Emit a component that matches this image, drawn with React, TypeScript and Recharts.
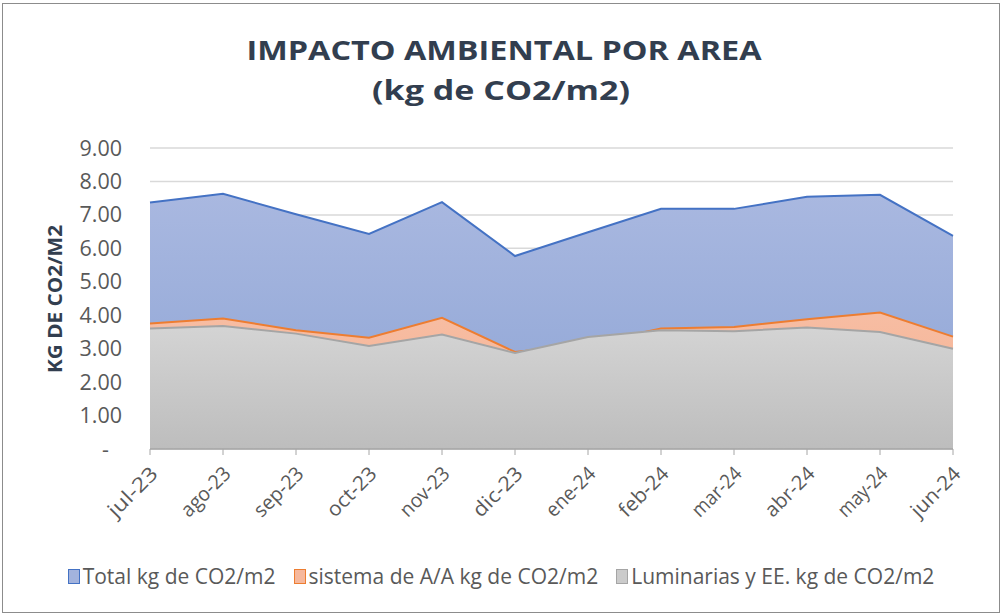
import React from 'react';
import { AreaChart, Area, XAxis, YAxis, CartesianGrid } from 'recharts';

const months = ['jul-23', 'ago-23', 'sep-23', 'oct-23', 'nov-23', 'dic-23', 'ene-24', 'feb-24', 'mar-24', 'abr-24', 'may-24', 'jun-24'];
const totalKg = [7.37, 7.63, 7.02, 6.43, 7.38, 5.77, 6.48, 7.18, 7.18, 7.54, 7.6, 6.37];
const sistemaAA = [3.75, 3.9, 3.55, 3.33, 3.92, 2.9, 3.13, 3.6, 3.65, 3.88, 4.08, 3.36];
const luminarias = [3.6, 3.68, 3.45, 3.08, 3.42, 2.87, 3.35, 3.55, 3.52, 3.63, 3.5, 3.0];
const yTicks = [0, 1, 2, 3, 4, 5, 6, 7, 8, 9];

const data = months.map((m, i) => ({
  month: m,
  total: totalKg[i],
  aa: sistemaAA[i],
  lum: luminarias[i],
}));

const FONT = '"Open Sans", sans-serif';
const TEXT_GRAY = '#595959';

const series = [
  { key: 'total', name: 'Total kg de CO2/m2', stroke: '#4472c4', grad: 'gTotal', box: '#a3b3dd' },
  { key: 'aa', name: 'sistema de A/A kg de CO2/m2', stroke: '#ed7d31', grad: 'gAA', box: '#f6b89c' },
  { key: 'lum', name: 'Luminarias y EE. kg de CO2/m2', stroke: '#a5a5a5', grad: 'gLum', box: '#cbcbcb' },
];

function XTick({ x, y, payload }: any) {
  const tx = x + 9;
  const ty = y + 18;
  return (
    <text x={tx} y={ty} transform={`rotate(-45 ${tx} ${ty})`} textAnchor="end" fill={TEXT_GRAY} fontSize={20} fontFamily={FONT} textLength={61} lengthAdjust="spacingAndGlyphs">
      {payload.value}
    </text>
  );
}

function YTick({ x, y, payload }: any) {
  const v = payload.value;
  return (
    <text x={v === 0 ? x - 13 : x} y={y + 7.5} textAnchor="end" fill={TEXT_GRAY} fontSize={21.5} fontFamily={FONT}>
      {v === 0 ? '-' : v.toFixed(2)}
    </text>
  );
}

function LegendBox() {
  return (
    <div style={{ display: 'flex', justifyContent: 'center', alignItems: 'center', fontFamily: FONT, fontSize: 21, color: TEXT_GRAY, whiteSpace: 'nowrap' }}>
      {series.map((s) => (
        <div key={s.key} style={{ display: 'flex', alignItems: 'center', margin: '0 9px' }}>
          <span style={{ width: 10, height: 13, background: s.box, border: `1.5px solid ${s.stroke}`, marginRight: 3, display: 'inline-block' }} />
          <span>{s.name}</span>
        </div>
      ))}
    </div>
  );
}

export default function App() {
  return (
    <div style={{ position: 'relative', width: 1002, height: 615, background: '#fff' }}>
      <style>{'body{margin:0}'}</style>
      <div style={{ position: 'absolute', left: 2, top: 3, width: 996, height: 608, border: '1px solid #8c8c8c' }} />
      <svg width={1002} height={615} style={{ position: 'absolute', left: 0, top: 0 }}>
        <text x={504} y={60} textAnchor="middle" fontFamily={FONT} fontWeight={700} fontSize={26} fill="#323e4f" textLength={515} lengthAdjust="spacingAndGlyphs">
          IMPACTO AMBIENTAL POR AREA
        </text>
        <text x={501} y={100} textAnchor="middle" fontFamily={FONT} fontWeight={700} fontSize={26} fill="#323e4f" textLength={258} lengthAdjust="spacingAndGlyphs">
          (kg de CO2/m2)
        </text>
        <text x={62} y={299} transform="rotate(-90 62 299)" textAnchor="middle" fontFamily={FONT} fontWeight={700} fontSize={19} fill="#323e4f" textLength={148} lengthAdjust="spacingAndGlyphs">
          KG DE CO2/M2
        </text>
      </svg>
      <div style={{ position: 'absolute', left: 0, top: 0 }}>
        <AreaChart width={1002} height={615} data={data} margin={{ top: 148, right: 49, bottom: 106, left: 90 }}>
          <defs>
            <linearGradient id="gTotal" x1="0" y1="0" x2="0" y2="1">
              <stop offset="0%" stopColor="#a9b8e0" />
              <stop offset="100%" stopColor="#8da4d5" />
            </linearGradient>
            <linearGradient id="gAA" x1="0" y1="0" x2="0" y2="1">
              <stop offset="0%" stopColor="#f7bda3" />
              <stop offset="100%" stopColor="#f4b08f" />
            </linearGradient>
            <linearGradient id="gLum" x1="0" y1="0" x2="0" y2="1">
              <stop offset="0%" stopColor="#d4d4d4" />
              <stop offset="100%" stopColor="#bdbdbd" />
            </linearGradient>
          </defs>
          <CartesianGrid vertical={false} stroke="#d9d9d9" strokeWidth={1.5} />
          <XAxis dataKey="month" height={60} interval={0} tick={<XTick />} tickSize={6} tickMargin={2} stroke="#a6a6a6" axisLine={{ stroke: '#a6a6a6', strokeWidth: 1.5 }} tickLine={{ stroke: '#a6a6a6' }} />
          <YAxis width={60} domain={[0, 9]} ticks={yTicks} tick={<YTick />} axisLine={false} tickLine={false} tickSize={0} tickMargin={28} />
          {series.map((s) => (
            <Area
              key={s.key}
              type="linear"
              dataKey={s.key}
              name={s.name}
              stroke={s.stroke}
              strokeWidth={2}
              fill={`url(#${s.grad})`}
              fillOpacity={1}
              isAnimationActive={false}
            />
          ))}
        </AreaChart>
      </div>
      <div style={{ position: 'absolute', left: 0, top: 562, width: 1002 }}>
        <LegendBox />
      </div>
    </div>
  );
}
